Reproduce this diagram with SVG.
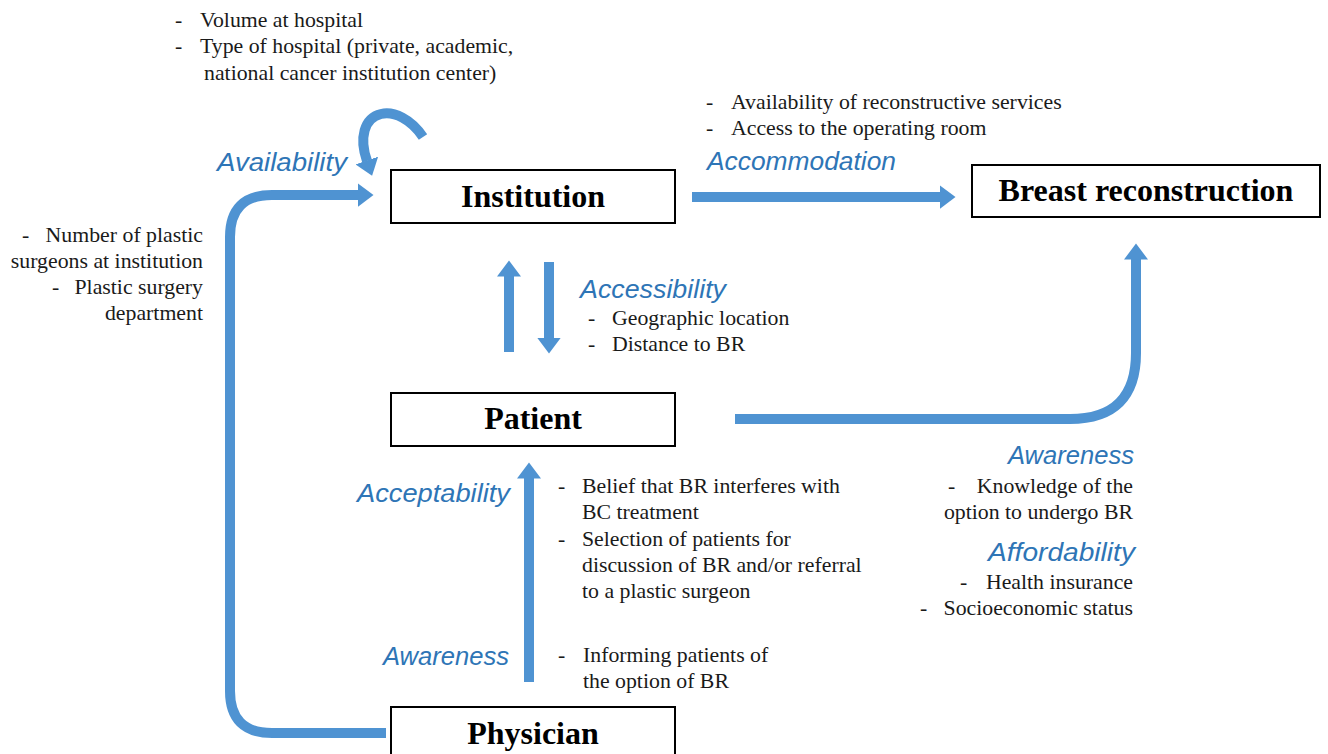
<svg xmlns="http://www.w3.org/2000/svg" width="1328" height="754" viewBox="0 0 1328 754">
<style>
.box{fill:#fff;stroke:#000;stroke-width:2}
.nt{font-family:"Liberation Serif","Times New Roman",serif;font-weight:bold;font-size:32px;fill:#000;text-anchor:middle}
.t{font-family:"Liberation Serif","Times New Roman",serif;font-size:21.8px;fill:#1a1a1a}
.e{text-anchor:end}
.lb{font-family:"Liberation Sans",Arial,sans-serif;font-style:italic;font-size:25px;fill:#2e75b6}
.ar{fill:none;stroke:#4f93d2;stroke-width:10;stroke-linecap:butt}
</style>
<defs>
<marker id="ah" markerWidth="18" markerHeight="24" refX="0.5" refY="12" orient="auto" markerUnits="userSpaceOnUse">
<path d="M0,0 L16,12 L0,24 z" fill="#4f93d2"/>
</marker>
<linearGradient id="gh" gradientUnits="userSpaceOnUse" x1="735" y1="0" x2="1140" y2="0">
<stop offset="0" stop-color="#3f88cb"/><stop offset="1" stop-color="#6ca5da"/>
</linearGradient>
<linearGradient id="gv" gradientUnits="userSpaceOnUse" x1="0" y1="680" x2="0" y2="470">
<stop offset="0" stop-color="#3f88cb"/><stop offset="1" stop-color="#6ca5da"/>
</linearGradient>
</defs>

<g id="connectors">
<path class="ar" d="M692,197 H940" marker-end="url(#ah)"/>
<path class="ar" d="M423,137 C411,119 394,111 381,114 C364,118 359,138 367,161" marker-end="url(#ah)"/>
<path class="ar" d="M386,733 H272 Q230,733 230,691 V237 Q230,195 272,195 H358" stroke="#5a9ad5" marker-end="url(#ah)"/>
<path class="ar" d="M509,352 V276" marker-end="url(#ah)"/>
<path class="ar" d="M549,262 V338" marker-end="url(#ah)"/>
<path class="ar" d="M735,419 H1070 Q1136,419 1136,353 V259" stroke="url(#gh)" marker-end="url(#ah)"/>
<path class="ar" d="M529,682 V478" stroke="url(#gv)" marker-end="url(#ah)"/>
</g>

<g id="node-institution">
<rect class="box" x="391" y="170" width="284" height="53"/>
<text class="nt" x="533" y="207">Institution</text>
</g>
<g id="node-breast-reconstruction">
<rect class="box" x="972" y="165" width="348" height="52"/>
<text class="nt" x="1146" y="201">Breast reconstruction</text>
</g>
<g id="node-patient">
<rect class="box" x="391" y="393" width="284" height="53"/>
<text class="nt" x="533" y="429">Patient</text>
</g>
<g id="node-physician">
<rect class="box" x="391" y="707" width="284" height="60"/>
<text class="nt" x="533" y="744">Physician</text>
</g>

<g id="labels">
<text class="lb" x="217" y="171" textLength="130" lengthAdjust="spacingAndGlyphs">Availability</text>
<text class="lb" x="707" y="170" textLength="189" lengthAdjust="spacingAndGlyphs">Accommodation</text>
<text class="lb" x="580" y="298" textLength="146" lengthAdjust="spacingAndGlyphs">Accessibility</text>
<text class="lb" x="357" y="502" textLength="153" lengthAdjust="spacingAndGlyphs">Acceptability</text>
<text class="lb" x="383" y="665" textLength="126" lengthAdjust="spacingAndGlyphs">Awareness</text>
<text class="lb" x="1008" y="464" textLength="126" lengthAdjust="spacingAndGlyphs">Awareness</text>
<text class="lb" x="988" y="561" textLength="147" lengthAdjust="spacingAndGlyphs">Affordability</text>
</g>

<g id="notes">
<text class="t" x="175" y="27">-</text><text class="t" x="200" y="27">Volume at hospital</text>
<text class="t" x="175" y="53">-</text><text class="t" x="200" y="53">Type of hospital (private, academic,</text>
<text class="t" x="204" y="80">national cancer institution center)</text>

<text class="t" x="706" y="109">-</text><text class="t" x="731" y="109">Availability of reconstructive services</text>
<text class="t" x="706" y="135">-</text><text class="t" x="731" y="135">Access to the operating room</text>

<text class="t" x="22" y="242">-</text><text class="t e" x="203" y="242">Number of plastic</text>
<text class="t e" x="203" y="268">surgeons at institution</text>
<text class="t" x="52" y="294">-</text><text class="t e" x="203" y="294">Plastic surgery</text>
<text class="t e" x="203" y="320">department</text>

<text class="t" x="588" y="325">-</text><text class="t" x="612" y="325">Geographic location</text>
<text class="t" x="588" y="351">-</text><text class="t" x="612" y="351">Distance to BR</text>

<text class="t" x="558" y="493">-</text><text class="t" x="582" y="493">Belief that BR interferes with</text>
<text class="t" x="582" y="519">BC treatment</text>
<text class="t" x="558" y="546">-</text><text class="t" x="582" y="546">Selection of patients for</text>
<text class="t" x="582" y="572">discussion of BR and/or referral</text>
<text class="t" x="582" y="598">to a plastic surgeon</text>

<text class="t" x="558" y="662">-</text><text class="t" x="583" y="662">Informing patients of</text>
<text class="t" x="583" y="688">the option of BR</text>

<text class="t" x="948" y="493">-</text><text class="t e" x="1133" y="493">Knowledge of the</text>
<text class="t e" x="1133" y="519">option to undergo BR</text>
<text class="t" x="960" y="589">-</text><text class="t e" x="1133" y="589">Health insurance</text>
<text class="t" x="920" y="615">-</text><text class="t e" x="1133" y="615">Socioeconomic status</text>
</g>
</svg>
